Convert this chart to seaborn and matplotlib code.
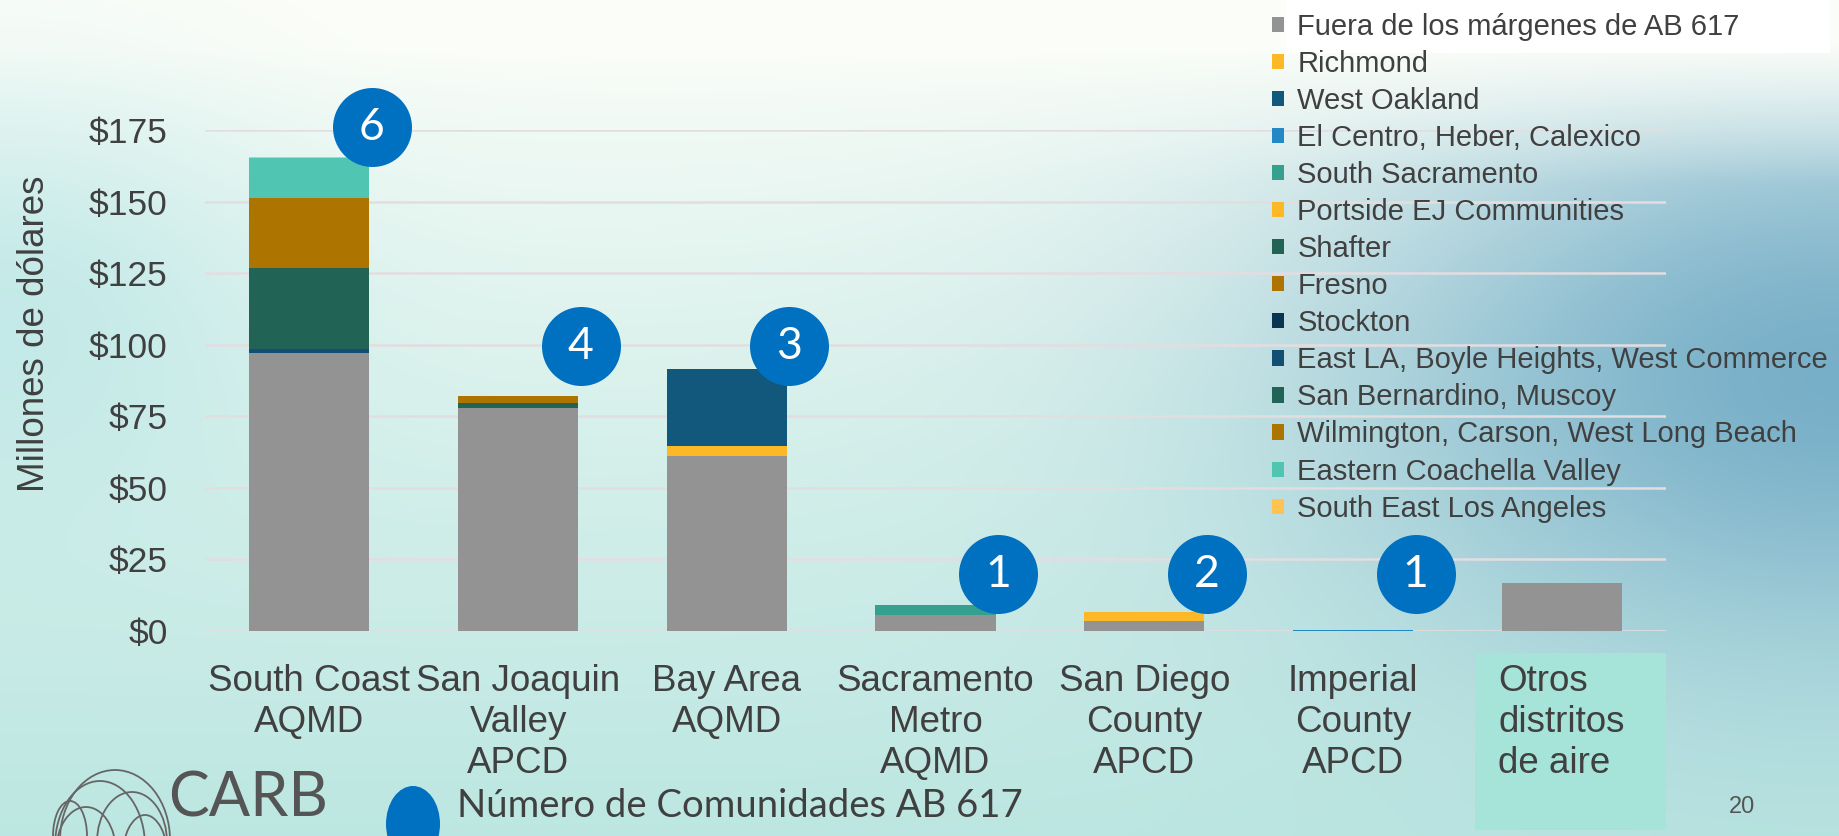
import numpy as np
import pandas as pd
import matplotlib
matplotlib.use("Agg")
import matplotlib.pyplot as plt
from matplotlib.patches import Rectangle, Ellipse, Arc
import seaborn as sns

# ---------------- data ----------------
districts = ["South Coast\nAQMD", "San Joaquin\nValley\nAPCD", "Bay Area\nAQMD",
             "Sacramento\nMetro\nAQMD", "San Diego\nCounty\nAPCD",
             "Imperial\nCounty\nAPCD", "Otros\ndistritos\nde aire"]

series_names = ["Fuera de los márgenes de AB 617", "Richmond", "West Oakland",
                "El Centro, Heber, Calexico", "South Sacramento",
                "Portside EJ Communities", "Shafter", "Fresno", "Stockton",
                "East LA, Boyle Heights, West Commerce", "San Bernardino, Muscoy",
                "Wilmington, Carson, West Long Beach", "Eastern Coachella Valley",
                "South East Los Angeles"]

fuera            = [97.2, 77.9, 61.2, 5.6, 3.5, 0.0, 16.8]
richmond         = [0.0, 0.0, 3.3, 0.0, 0.0, 0.0, 0.0]
west_oakland     = [0.0, 0.0, 26.9, 0.0, 0.0, 0.0, 0.0]
el_centro        = [0.0, 0.0, 0.0, 0.0, 0.0, 0.5, 0.0]
south_sacramento = [0.0, 0.0, 0.0, 3.6, 0.0, 0.0, 0.0]
portside         = [0.0, 0.0, 0.0, 0.0, 3.3, 0.0, 0.0]
shafter          = [0.0, 1.6, 0.0, 0.0, 0.0, 0.0, 0.0]
fresno           = [0.0, 2.5, 0.0, 0.0, 0.0, 0.0, 0.0]
stockton         = [0.0, 0.2, 0.0, 0.0, 0.0, 0.0, 0.0]
east_la          = [1.2, 0.0, 0.0, 0.0, 0.0, 0.0, 0.0]
san_bernardino   = [28.4, 0.0, 0.0, 0.0, 0.0, 0.0, 0.0]
wilmington       = [24.4, 0.0, 0.0, 0.0, 0.0, 0.0, 0.0]
coachella        = [14.0, 0.0, 0.0, 0.0, 0.0, 0.0, 0.0]
sela             = [0.3, 0.0, 0.0, 0.0, 0.0, 0.0, 0.0]

series_values = [fuera, richmond, west_oakland, el_centro, south_sacramento,
                 portside, shafter, fresno, stockton, east_la, san_bernardino,
                 wilmington, coachella, sela]

series_colors = ["#939393", "#FDB827", "#11587C", "#2389C4", "#35A08E",
                 "#FDB827", "#216355", "#AD7400", "#0A3450", "#124F73",
                 "#216355", "#AD7400", "#50C5B2", "#FEC350"]

communities = [6, 4, 3, 1, 2, 1]          # number of AB 617 communities per district
badge_y = [176, 99.5, 99.5, 19.9, 19.9, 19.9]

yticks = [0, 25, 50, 75, 100, 125, 150, 175]
ytick_labels = ["$0", "$25", "$50", "$75", "$100", "$125", "$150", "$175"]

# ---------------- style ----------------
sns.set_style("white")
plt.rcParams['font.family'] = ['Liberation Sans', 'DejaVu Sans']
TXT = "#404040"

W, H = 1839, 836
fig = plt.figure(figsize=(W / 100, H / 100), dpi=100)

# background gradient
bg = fig.add_axes([0, 0, 1, 1], zorder=-3)
yy = np.linspace(0, 1, H)[:, None]
xx = np.linspace(0, 1, W)[None, :]
top = np.array([0.988, 0.995, 0.975])
bot = np.array([0.74, 0.905, 0.885])
s = np.clip((yy - 0.06) / 0.94, 0, 1) ** 0.75
img = top * (1 - s[..., None]) + bot * s[..., None]
img = np.broadcast_to(img, (H, W, 3)).copy()
wl = np.exp(-(xx / 0.15) ** 2) * np.exp(-((yy - 0.38) / 0.26) ** 2)
img = img * (1 - 0.7 * wl[..., None]) + np.array([0.72, 0.9, 0.9]) * 0.7 * wl[..., None]
wr = np.exp(-((xx - 1.0) / 0.28) ** 2 - ((yy - 0.45) / 0.36) ** 2)
wr = wr * np.clip((yy - 0.04) / 0.18, 0, 1)
img = img * (1 - 0.9 * wr[..., None]) + np.array([0.43, 0.66, 0.77]) * 0.9 * wr[..., None]
bg.imshow(img, aspect='auto', extent=[0, W, H, 0])
bg.set_xlim(0, W); bg.set_ylim(H, 0)
bg.axis('off')

# decoration layer (pixel coordinates)
deco = fig.add_axes([0, 0, 1, 1], zorder=-2)
deco.set_xlim(0, W); deco.set_ylim(H, 0)
deco.axis('off')
deco.patch.set_alpha(0)
deco.add_patch(Rectangle((1286, 0), 544, 53, facecolor="white", edgecolor="none"))
deco.add_patch(Rectangle((1475, 653), 191, 177, facecolor="#A6E3D8", edgecolor="none"))
deco.add_patch(Ellipse((413, 824), 54, 76, facecolor="#0070C0", edgecolor="none"))
deco.text(457, 806, "Número de Comunidades AB 617", fontsize=27.5, color=TXT,
          family=['Lato', 'DejaVu Sans'], va='center', ha='left')
deco.text(168, 799, "CARB", fontsize=44, color="#555555", family=['Lato', 'DejaVu Sans'],
          va='center', ha='left')
for (cx, cy, w, h) in [(115, 840, 110, 140), (100, 846, 90, 130),
                       (132, 842, 70, 100), (86, 852, 60, 90),
                       (145, 860, 46, 90), (70, 836, 34, 70)]:
    deco.add_patch(Arc((cx, cy), w, h, theta1=180, theta2=360, color="#666666", lw=1.3))
deco.text(1742, 807, "20", fontsize=17, color="#555555", ha='center', va='center')

# main axes
ax = fig.add_axes([205 / W, 1 - 631 / H, 1461 / W, 501 / H], zorder=0)
ax.patch.set_alpha(0)

bottom = np.zeros(len(districts))
for name, vals, col in zip(series_names, series_values, series_colors):
    df = pd.DataFrame({"district": districts, "value": vals})
    sns.barplot(data=df, x="district", y="value", order=districts, color=col,
                saturation=1, width=0.575, errorbar=None, bottom=bottom.copy(),
                label=name, ax=ax, linewidth=0)
    bottom = bottom + np.array(vals)

leg = ax.get_legend()
if leg is not None:
    leg.remove()

ax.set_xlim(-0.5, len(districts) - 0.5)
ax.set_ylim(0, 175)
ax.set_yticks(yticks)
ax.set_yticklabels(ytick_labels)
ax.yaxis.grid(True, color="#E4DDE0", linewidth=1.8)
ax.set_axisbelow(True)
for sp in ax.spines.values():
    sp.set_visible(False)
ax.tick_params(axis='y', length=0, pad=27, labelsize=25.5, labelcolor=TXT)
ax.tick_params(axis='x', length=0, pad=24, labelsize=26.5, labelcolor=TXT)
for lab in ax.get_xticklabels():
    lab.set_linespacing(1.22)
ax.get_xticklabels()[-1].set_multialignment('left')
ax.set_xlabel("")
ax.set_ylabel("Millones de dólares", fontsize=26.5, color=TXT)
ax.yaxis.set_label_coords(-0.105, 0.593)

# community badges
bx = np.arange(len(communities)) + 0.3
ax.scatter(bx, badge_y, s=3235, color="#0070C0", zorder=5, clip_on=False, linewidths=0)
for x, y, n in zip(bx, badge_y, communities):
    ax.text(x, y, str(n), color="white", fontsize=32, ha='center', va='center',
            family=['Lato', 'DejaVu Sans'], zorder=6)

# legend
handles, labels = ax.get_legend_handles_labels()
fig.legend(handles, labels, loc='upper left', bbox_to_anchor=(1272 / W, 1 - 13 / H),
           frameon=False, fontsize=21, labelcolor=TXT, handlelength=0.42,
           handleheight=0.42, handletextpad=0.45, labelspacing=0.31,
           borderpad=0, borderaxespad=0)

fig.savefig("out.png", dpi=100)
